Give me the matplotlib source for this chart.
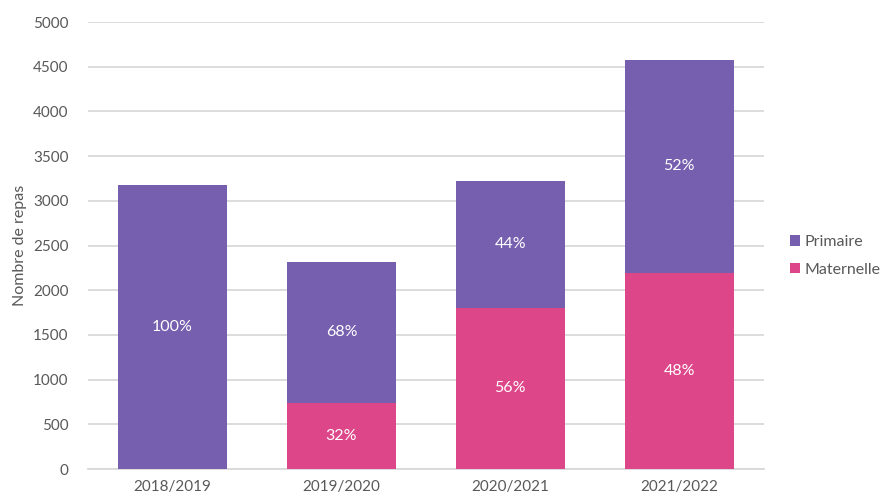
import matplotlib.pyplot as plt
import numpy as np

# Repas servis par année scolaire
annees = ["2018/2019", "2019/2020", "2020/2021", "2021/2022"]
maternelle = [0, 740, 1805, 2195]
primaire = [3180, 1580, 1420, 2380]

COL_PRIM = "#775FAF"
COL_MAT = "#DD4689"
GRIS = "#595959"

plt.rcParams['font.family'] = ['Lato', 'DejaVu Sans']

fig = plt.figure(figsize=(8.84, 4.97), dpi=100)
ax = fig.add_axes([0.0995, 0.0563, 0.7645, 0.8994])

x = np.arange(len(annees))
mat = np.array(maternelle)
prim = np.array(primaire)
total = mat + prim

ax.bar(x, mat, width=0.645, color=COL_MAT, label="Maternelle", zorder=3)
ax.bar(x, prim, width=0.645, bottom=mat, color=COL_PRIM, label="Primaire", zorder=3)

# Pourcentages au centre de chaque segment
for i in range(len(x)):
    if mat[i] > 0:
        ax.text(x[i], mat[i] / 2, f"{round(100 * mat[i] / total[i])}%",
                ha="center", va="center", color="white", fontsize=11.5, zorder=4)
    if prim[i] > 0:
        ax.text(x[i], mat[i] + prim[i] / 2, f"{round(100 * prim[i] / total[i])}%",
                ha="center", va="center", color="white", fontsize=11.5, zorder=4)

ax.set_xlim(-0.5, 3.5)
ax.set_ylim(0, 5000)
ax.set_yticks(range(0, 5001, 500))
ax.set_xticks(x)
ax.set_xticklabels(annees)
ax.yaxis.grid(True, color="#D9D9D9", linewidth=1.3, zorder=0)
ax.set_axisbelow(True)
for s in ["top", "right", "left"]:
    ax.spines[s].set_visible(False)
ax.spines["bottom"].set_color("#D9D9D9")
ax.spines["bottom"].set_linewidth(1.3)
ax.tick_params(axis="both", length=0, colors=GRIS, labelsize=11)
ax.tick_params(axis="y", pad=14)
ax.tick_params(axis="x", pad=8)
ax.set_ylabel("Nombre de repas", color=GRIS, fontsize=11.5, labelpad=4)

handles, labels = ax.get_legend_handles_labels()
leg = fig.legend(handles[::-1], labels[::-1], loc="center left",
                 bbox_to_anchor=(0.887, 0.485), frameon=False, fontsize=11.5,
                 handlelength=0.6, handleheight=0.6, handletextpad=0.3,
                 labelspacing=0.85, borderaxespad=0)
for t in leg.get_texts():
    t.set_color(GRIS)

fig.savefig("out.png", dpi=100)
plt.close(fig)
